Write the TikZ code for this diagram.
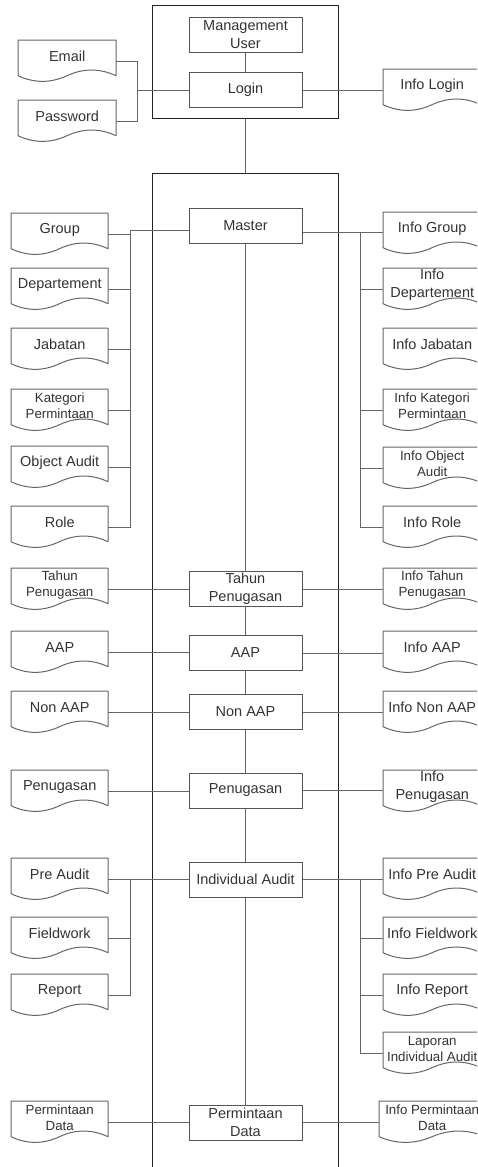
\documentclass[tikz,border=0pt]{standalone}
\usepackage{fontspec}
\setmainfont{Liberation Sans}

\definecolor{txt}{HTML}{333333}
\definecolor{boxline}{HTML}{555555}
\definecolor{docline}{HTML}{666666}
\definecolor{connline}{HTML}{666666}
\definecolor{frameline}{HTML}{222222}

% document-shaped data node: name, left x, top y, width, label, font style
\newcommand\docnode[6]{%
  \node[docbox=#4pt, anchor=north west,
        label={[yshift=4.5pt, align=center, #6]center:{#5}}] (#1) at (#2,#3) {};
  \begin{scope}[shift={(#1.north west)}, xscale=#4/98]
    \draw[docedge] (0,0) -- (98,0) -- (98,35.7)
      .. controls (81.67,28.14) and (65.33,28.14) .. (49,35.7)
      .. controls (32.67,43.26) and (16.33,43.26) .. (0,35.7) -- cycle;
  \end{scope}}

\begin{document}
\begin{tikzpicture}[x=1pt, y=-1pt,
  every node/.style={font=\fontsize{14.5}{18}\selectfont, text=txt},
  proc/.style={draw=boxline, line width=1pt, minimum width=113pt,
    minimum height=35pt, inner sep=0pt, align=center},
  outerframe/.style={draw=frameline, line width=1pt, inner sep=0pt,
    minimum width=186pt, anchor=north west},
  docbox/.style={inner sep=0pt, minimum height=42pt, minimum width=#1},
  docedge/.style={draw=docline, line width=1pt, line join=round},
  conn/.style={draw=connline, line width=1pt},
  smalltext/.style={font=\fontsize{13.3}{16}\selectfont},
]
\useasboundingbox (0,0) rectangle (477,1167);
\clip (0,0) rectangle (477,1167);

% outer frames
\node[outerframe, minimum height=113pt] (usrframe) at (152,5) {};
\node[outerframe, minimum height=1020pt] (mainframe) at (152,173) {};

% process column
\node[proc] (mu) at (245.5,35) {Management\\User};
\node[proc] (login) at (245.5,90) {Login};
\node[proc] (master) at (245.5,225.5) {Master};
\node[proc] (tahun) at (245.5,589) {Tahun\\Penugasan};
\node[proc] (aap) at (245.5,653) {AAP};
\node[proc] (nonaap) at (245.5,712) {Non AAP};
\node[proc] (penugasan) at (245.5,790.5) {Penugasan};
\node[proc] (indiv) at (245.5,879.5) {Individual Audit};
\node[proc] (minta) at (245.5,1122.5) {Permintaan\\Data};

% login inputs and output
\docnode{email}{18}{40}{98}{Email}{}
\docnode{password}{18}{100}{98}{Password}{}
\docnode{infologin}{383}{69}{98}{Info Login}{}

% master inputs
\docnode{group}{11}{213}{97}{Group}{}
\docnode{dept}{11}{268}{97}{Departement}{}
\docnode{jab}{11}{328}{97}{Jabatan}{}
\docnode{kat}{11}{389}{97}{Kategori\\Permintaan}{smalltext}
\docnode{obj}{11}{446}{97}{Object Audit}{}
\docnode{role}{11}{506}{97}{Role}{}

% master outputs
\docnode{infogroup}{383}{212}{98}{Info Group}{}
\docnode{infodept}{383}{268}{98}{Info\\Departement}{}
\docnode{infojab}{383}{328}{98}{Info Jabatan}{}
\docnode{infokat}{383}{389}{98}{Info Kategori\\Permintaan}{smalltext}
\docnode{infoobj}{383}{447}{98}{Info Object\\Audit}{smalltext}
\docnode{inforole}{383}{506}{98}{Info Role}{}

% single-row inputs and outputs
\docnode{tahunL}{11}{568}{97}{Tahun\\Penugasan}{smalltext}
\docnode{infotahun}{383}{568}{98}{Info Tahun\\Penugasan}{smalltext}
\docnode{aapL}{11}{631}{97}{AAP}{}
\docnode{infoaap}{383}{631}{98}{Info AAP}{}
\docnode{nonaapL}{11}{691}{97}{Non AAP}{}
\docnode{infononaap}{383}{691}{98}{Info Non AAP}{}
\docnode{penugasanL}{11}{770}{97}{Penugasan}{}
\docnode{infopenugasan}{383}{770}{98}{Info\\Penugasan}{}

% individual audit inputs and outputs
\docnode{preaudit}{11}{858}{97}{Pre Audit}{}
\docnode{fieldwork}{11}{917}{97}{Fieldwork}{}
\docnode{report}{11}{974}{97}{Report}{}
\docnode{infopre}{383}{858}{98}{Info Pre Audit}{}
\docnode{infofield}{383}{917}{98}{Info Fieldwork}{}
\docnode{inforeport}{383}{974}{98}{Info Report}{}
\docnode{laporan}{383}{1032}{98}{Laporan\\Individual Audit}{smalltext}

% data request
\docnode{mintaL}{11}{1101}{97}{Permintaan\\Data}{smalltext}
\docnode{infominta}{379}{1101}{106}{Info Permintaan\\Data}{smalltext}

% bus lines
\coordinate (lb0) at (137,0);
\coordinate (lb) at (130,0);
\coordinate (rb) at (360,0);
\coordinate (mw) at ([yshift=-4.5pt]master.west);
\coordinate (me) at ([yshift=-6.5pt]master.east);

% login connectors
\draw[conn] (mu.south) -- (login.north);
\draw[conn] (email.east) -| (lb0 |- password.east) -- (password.east);
\draw[conn] (login.west) -- (lb0 |- login.west);
\draw[conn] (login.east) -- (login.east -| infologin.west);
\draw[conn] (usrframe.south) -- (mainframe.north);

% master connectors
\draw[conn] (mw) -| (lb |- role.east) -- (role.east);
\foreach \n in {group,dept,jab,kat,obj}
  \draw[conn] (\n.east) -- (lb |- \n.east);
\draw[conn] (me) -- (me -| infogroup.west);
\draw[conn] (me -| rb) |- (inforole.west);
\foreach \n in {infodept,infokat,infoobj}
  \draw[conn] (\n.west) -- (rb |- \n.west);

% process chain
\draw[conn] (master.south) -- (tahun.north);
\draw[conn] (tahun.south) -- (aap.north);
\draw[conn] (aap.south) -- (nonaap.north);
\draw[conn] (nonaap.south) -- (penugasan.north);
\draw[conn] (penugasan.south) -- (indiv.north);
\draw[conn] (indiv.south) -- (minta.north);

% single-row connectors
\foreach \a/\b/\c in {tahunL/tahun/infotahun, aapL/aap/infoaap,
    nonaapL/nonaap/infononaap, penugasanL/penugasan/infopenugasan,
    mintaL/minta/infominta} {
  \draw[conn] (\a.east) -- (\a.east -| \b.west);
  \draw[conn] (\b.east) -- (\b.east -| \c.west);
}

% individual audit connectors
\draw[conn] (preaudit.east) -- (preaudit.east -| indiv.west);
\draw[conn] (lb |- preaudit.east) |- (report.east);
\draw[conn] (fieldwork.east) -- (lb |- fieldwork.east);
\draw[conn] (indiv.east) -- (indiv.east -| infopre.west);
\draw[conn] (rb |- indiv.east) |- (laporan.west);
\foreach \n in {infofield,inforeport}
  \draw[conn] (\n.west) -- (rb |- \n.west);
\end{tikzpicture}
\end{document}
